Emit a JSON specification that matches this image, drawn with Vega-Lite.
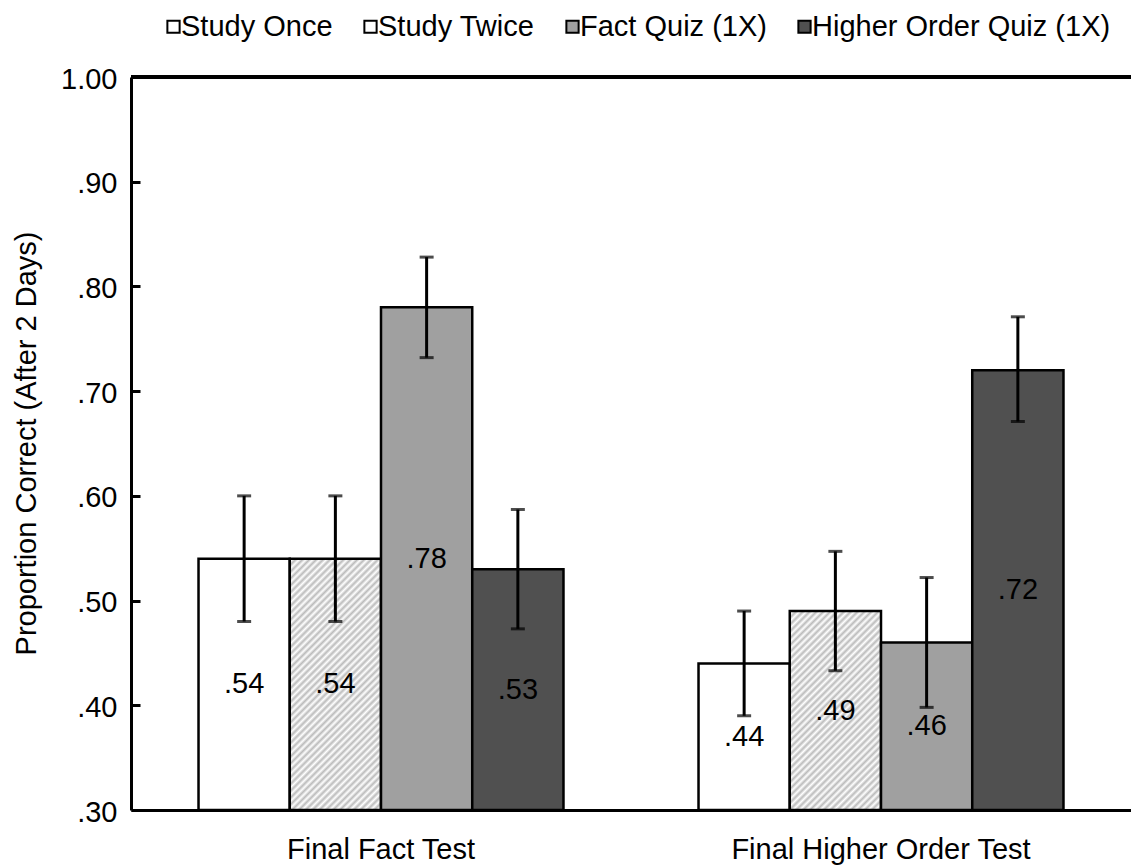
{
  "$schema": "https://vega.github.io/schema/vega-lite/v6.json",
  "width": 1000,
  "height": 733,
  "autosize": "none",
  "padding": {"left": 131, "top": 77, "right": 0, "bottom": 55},
  "background": "white",
  "config": {"font": "Liberation Sans", "view": {"stroke": null}, "axis": {"grid": false}},
  "data": {
    "values": [
      {"test": "Final Fact Test", "cond": "Study Once", "value": 0.54, "lo": 0.48, "hi": 0.60, "label": ".54"},
      {"test": "Final Fact Test", "cond": "Study Twice", "value": 0.54, "lo": 0.48, "hi": 0.60, "label": ".54"},
      {"test": "Final Fact Test", "cond": "Fact Quiz (1X)", "value": 0.78, "lo": 0.732, "hi": 0.828, "label": ".78"},
      {"test": "Final Fact Test", "cond": "Higher Order Quiz (1X)", "value": 0.53, "lo": 0.473, "hi": 0.587, "label": ".53"},
      {"test": "Final Higher Order Test", "cond": "Study Once", "value": 0.44, "lo": 0.39, "hi": 0.49, "label": ".44"},
      {"test": "Final Higher Order Test", "cond": "Study Twice", "value": 0.49, "lo": 0.433, "hi": 0.547, "label": ".49"},
      {"test": "Final Higher Order Test", "cond": "Fact Quiz (1X)", "value": 0.46, "lo": 0.398, "hi": 0.522, "label": ".46"},
      {"test": "Final Higher Order Test", "cond": "Higher Order Quiz (1X)", "value": 0.72, "lo": 0.671, "hi": 0.771, "label": ".72"}
    ]
  },
  "layer": [
    {
      "mark": {"type": "bar", "stroke": "black", "strokeWidth": 2.5},
      "encoding": {
        "x": {"field": "test", "type": "nominal", "sort": ["Final Fact Test", "Final Higher Order Test"], "scale": {"paddingInner": 0, "paddingOuter": 0},
          "axis": {"title": null, "labelAngle": 0, "ticks": false, "tickSize": 0, "labelPadding": 25, "labelFontSize": 29, "labelFont": "Liberation Sans", "labelColor": "black", "labelLimit": 0, "domainColor": "black", "domainWidth": 3}},
        "xOffset": {"field": "cond", "type": "nominal", "sort": ["Study Once", "Study Twice", "Fact Quiz (1X)", "Higher Order Quiz (1X)"], "scale": {"paddingInner": 0, "paddingOuter": 0.74}},
        "y": {"field": "value", "type": "quantitative", "scale": {"domain": [0.3, 1], "nice": false, "zero": false},
          "axis": {"values": [0.3, 0.4, 0.5, 0.6, 0.7, 0.8, 0.9, 1], "labelExpr": "datum.value >= 0.999 ? '1.00' : replace(format(datum.value, '.2f'), '0.', '.')",
            "ticks": false, "tickSize": 0, "labelPadding": 14, "labelFontSize": 29, "labelFont": "Liberation Sans", "labelColor": "black", "labelFlush": false, "labelOverlap": false, "labelOffset": 2,
            "domainColor": "black", "domainWidth": 3,
            "title": "Proportion Correct (After 2 Days)", "titleFontSize": 29, "titleFont": "Liberation Sans", "titleFontWeight": "normal", "titleColor": "black",
            "titleX": -96, "titleY": 366, "titleAngle": 270, "titleAlign": "center", "titleBaseline": "alphabetic"}},
        "y2": {"datum": 0.3},
        "fill": {
          "field": "cond", "type": "nominal",
          "sort": ["Study Once", "Study Twice", "Fact Quiz (1X)", "Higher Order Quiz (1X)"],
          "scale": {"domain": ["Study Once", "Study Twice", "Fact Quiz (1X)", "Higher Order Quiz (1X)"], "range": ["#ffffff", "#ffffff", "#a0a0a0", "#505050"]},
          "legend": {"orient": "none", "legendX": 28, "legendY": -65, "direction": "horizontal", "title": null, "padding": 0,
            "symbolType": "square", "symbolSize": 150, "symbolStrokeColor": "black", "symbolStrokeWidth": 2,
            "labelFontSize": 29, "labelFont": "Liberation Sans", "labelColor": "black", "labelOffset": -7, "labelLimit": 0, "columnPadding": 23,
            "encode": {"symbols": {"update": {
              "stroke": {"value": "black"}, "strokeWidth": {"value": 2}, "opacity": {"value": 1},
              "fill": [
              {"test": "datum.value === 'Study Twice'", "value": {"gradient": "linear", "x1": 0, "y1": 0, "x2": 1, "y2": 1, "stops": [{"offset": 0, "color": "#fff"}, {"offset": 0.38, "color": "#fff"}, {"offset": 0.5, "color": "#999"}, {"offset": 0.62, "color": "#fff"}, {"offset": 1, "color": "#fff"}]}},
              {"scale": "fill", "field": "value"}
            ]}}}},
          "condition": [
            {"test": "datum.cond === 'Study Twice' && datum.test === 'Final Fact Test'", "value": {"gradient": "linear", "x1": 0, "y1": 0, "x2": 0.4373, "y2": 1.2044, "stops": [
              {"offset":0,"color":"#bbb"},{"offset":0.01,"color":"#fff"},{"offset":0.02,"color":"#bbb"},{"offset":0.03,"color":"#fff"},{"offset":0.04,"color":"#bbb"},{"offset":0.05,"color":"#fff"},{"offset":0.06,"color":"#bbb"},{"offset":0.07,"color":"#fff"},{"offset":0.08,"color":"#bbb"},{"offset":0.09,"color":"#fff"},
              {"offset":0.1,"color":"#bbb"},{"offset":0.11,"color":"#fff"},{"offset":0.12,"color":"#bbb"},{"offset":0.13,"color":"#fff"},{"offset":0.14,"color":"#bbb"},{"offset":0.15,"color":"#fff"},{"offset":0.16,"color":"#bbb"},{"offset":0.17,"color":"#fff"},{"offset":0.18,"color":"#bbb"},{"offset":0.19,"color":"#fff"},
              {"offset":0.2,"color":"#bbb"},{"offset":0.21,"color":"#fff"},{"offset":0.22,"color":"#bbb"},{"offset":0.23,"color":"#fff"},{"offset":0.24,"color":"#bbb"},{"offset":0.25,"color":"#fff"},{"offset":0.26,"color":"#bbb"},{"offset":0.27,"color":"#fff"},{"offset":0.28,"color":"#bbb"},{"offset":0.29,"color":"#fff"},
              {"offset":0.3,"color":"#bbb"},{"offset":0.31,"color":"#fff"},{"offset":0.32,"color":"#bbb"},{"offset":0.33,"color":"#fff"},{"offset":0.34,"color":"#bbb"},{"offset":0.35,"color":"#fff"},{"offset":0.36,"color":"#bbb"},{"offset":0.37,"color":"#fff"},{"offset":0.38,"color":"#bbb"},{"offset":0.39,"color":"#fff"},
              {"offset":0.4,"color":"#bbb"},{"offset":0.41,"color":"#fff"},{"offset":0.42,"color":"#bbb"},{"offset":0.43,"color":"#fff"},{"offset":0.44,"color":"#bbb"},{"offset":0.45,"color":"#fff"},{"offset":0.46,"color":"#bbb"},{"offset":0.47,"color":"#fff"},{"offset":0.48,"color":"#bbb"},{"offset":0.49,"color":"#fff"},
              {"offset":0.5,"color":"#bbb"},{"offset":0.51,"color":"#fff"},{"offset":0.52,"color":"#bbb"},{"offset":0.53,"color":"#fff"},{"offset":0.54,"color":"#bbb"},{"offset":0.55,"color":"#fff"},{"offset":0.56,"color":"#bbb"},{"offset":0.57,"color":"#fff"},{"offset":0.58,"color":"#bbb"},{"offset":0.59,"color":"#fff"},
              {"offset":0.6,"color":"#bbb"},{"offset":0.61,"color":"#fff"},{"offset":0.62,"color":"#bbb"},{"offset":0.63,"color":"#fff"},{"offset":0.64,"color":"#bbb"},{"offset":0.65,"color":"#fff"},{"offset":0.66,"color":"#bbb"},{"offset":0.67,"color":"#fff"},{"offset":0.68,"color":"#bbb"},{"offset":0.69,"color":"#fff"},
              {"offset":0.7,"color":"#bbb"},{"offset":0.71,"color":"#fff"},{"offset":0.72,"color":"#bbb"},{"offset":0.73,"color":"#fff"},{"offset":0.74,"color":"#bbb"},{"offset":0.75,"color":"#fff"},{"offset":0.76,"color":"#bbb"},{"offset":0.77,"color":"#fff"},{"offset":0.78,"color":"#bbb"},{"offset":0.79,"color":"#fff"},
              {"offset":0.8,"color":"#bbb"},{"offset":0.81,"color":"#fff"},{"offset":0.82,"color":"#bbb"},{"offset":0.83,"color":"#fff"},{"offset":0.84,"color":"#bbb"},{"offset":0.85,"color":"#fff"},{"offset":0.86,"color":"#bbb"},{"offset":0.87,"color":"#fff"},{"offset":0.88,"color":"#bbb"},{"offset":0.89,"color":"#fff"},
              {"offset":0.9,"color":"#bbb"},{"offset":0.91,"color":"#fff"},{"offset":0.92,"color":"#bbb"},{"offset":0.93,"color":"#fff"},{"offset":0.94,"color":"#bbb"},{"offset":0.95,"color":"#fff"},{"offset":0.96,"color":"#bbb"},{"offset":0.97,"color":"#fff"},{"offset":0.98,"color":"#bbb"},{"offset":0.99,"color":"#fff"},
              {"offset":1,"color":"#bbb"}]}},
            {"test": "datum.cond === 'Study Twice' && datum.test === 'Final Higher Order Test'", "value": {"gradient": "linear", "x1": 0, "y1": 0, "x2": 0.6525, "y2": 1.4225, "stops": [
              {"offset":0,"color":"#bbb"},{"offset":0.01,"color":"#fff"},{"offset":0.02,"color":"#bbb"},{"offset":0.03,"color":"#fff"},{"offset":0.04,"color":"#bbb"},{"offset":0.05,"color":"#fff"},{"offset":0.06,"color":"#bbb"},{"offset":0.07,"color":"#fff"},{"offset":0.08,"color":"#bbb"},{"offset":0.09,"color":"#fff"},
              {"offset":0.1,"color":"#bbb"},{"offset":0.11,"color":"#fff"},{"offset":0.12,"color":"#bbb"},{"offset":0.13,"color":"#fff"},{"offset":0.14,"color":"#bbb"},{"offset":0.15,"color":"#fff"},{"offset":0.16,"color":"#bbb"},{"offset":0.17,"color":"#fff"},{"offset":0.18,"color":"#bbb"},{"offset":0.19,"color":"#fff"},
              {"offset":0.2,"color":"#bbb"},{"offset":0.21,"color":"#fff"},{"offset":0.22,"color":"#bbb"},{"offset":0.23,"color":"#fff"},{"offset":0.24,"color":"#bbb"},{"offset":0.25,"color":"#fff"},{"offset":0.26,"color":"#bbb"},{"offset":0.27,"color":"#fff"},{"offset":0.28,"color":"#bbb"},{"offset":0.29,"color":"#fff"},
              {"offset":0.3,"color":"#bbb"},{"offset":0.31,"color":"#fff"},{"offset":0.32,"color":"#bbb"},{"offset":0.33,"color":"#fff"},{"offset":0.34,"color":"#bbb"},{"offset":0.35,"color":"#fff"},{"offset":0.36,"color":"#bbb"},{"offset":0.37,"color":"#fff"},{"offset":0.38,"color":"#bbb"},{"offset":0.39,"color":"#fff"},
              {"offset":0.4,"color":"#bbb"},{"offset":0.41,"color":"#fff"},{"offset":0.42,"color":"#bbb"},{"offset":0.43,"color":"#fff"},{"offset":0.44,"color":"#bbb"},{"offset":0.45,"color":"#fff"},{"offset":0.46,"color":"#bbb"},{"offset":0.47,"color":"#fff"},{"offset":0.48,"color":"#bbb"},{"offset":0.49,"color":"#fff"},
              {"offset":0.5,"color":"#bbb"},{"offset":0.51,"color":"#fff"},{"offset":0.52,"color":"#bbb"},{"offset":0.53,"color":"#fff"},{"offset":0.54,"color":"#bbb"},{"offset":0.55,"color":"#fff"},{"offset":0.56,"color":"#bbb"},{"offset":0.57,"color":"#fff"},{"offset":0.58,"color":"#bbb"},{"offset":0.59,"color":"#fff"},
              {"offset":0.6,"color":"#bbb"},{"offset":0.61,"color":"#fff"},{"offset":0.62,"color":"#bbb"},{"offset":0.63,"color":"#fff"},{"offset":0.64,"color":"#bbb"},{"offset":0.65,"color":"#fff"},{"offset":0.66,"color":"#bbb"},{"offset":0.67,"color":"#fff"},{"offset":0.68,"color":"#bbb"},{"offset":0.69,"color":"#fff"},
              {"offset":0.7,"color":"#bbb"},{"offset":0.71,"color":"#fff"},{"offset":0.72,"color":"#bbb"},{"offset":0.73,"color":"#fff"},{"offset":0.74,"color":"#bbb"},{"offset":0.75,"color":"#fff"},{"offset":0.76,"color":"#bbb"},{"offset":0.77,"color":"#fff"},{"offset":0.78,"color":"#bbb"},{"offset":0.79,"color":"#fff"},
              {"offset":0.8,"color":"#bbb"},{"offset":0.81,"color":"#fff"},{"offset":0.82,"color":"#bbb"},{"offset":0.83,"color":"#fff"},{"offset":0.84,"color":"#bbb"},{"offset":0.85,"color":"#fff"},{"offset":0.86,"color":"#bbb"},{"offset":0.87,"color":"#fff"},{"offset":0.88,"color":"#bbb"},{"offset":0.89,"color":"#fff"},
              {"offset":0.9,"color":"#bbb"},{"offset":0.91,"color":"#fff"},{"offset":0.92,"color":"#bbb"},{"offset":0.93,"color":"#fff"},{"offset":0.94,"color":"#bbb"},{"offset":0.95,"color":"#fff"},{"offset":0.96,"color":"#bbb"},{"offset":0.97,"color":"#fff"},{"offset":0.98,"color":"#bbb"},{"offset":0.99,"color":"#fff"},
              {"offset":1,"color":"#bbb"}]}}
          ]
        }
      }
    },
    {
      "mark": {"type": "text", "fontSize": 29, "font": "Liberation Sans", "color": "black", "align": "center", "baseline": "middle"},
      "encoding": {
        "x": {"field": "test", "type": "nominal", "sort": ["Final Fact Test", "Final Higher Order Test"]},
        "xOffset": {"field": "cond", "type": "nominal", "sort": ["Study Once", "Study Twice", "Fact Quiz (1X)", "Higher Order Quiz (1X)"]},
        "y": {"field": "value", "type": "quantitative", "scale": {"domain": [0.3, 1.7], "nice": false, "zero": false}, "axis": null},
        "text": {"field": "label"}
      }
    },
    {
      "mark": {"type": "rule", "color": "black", "strokeWidth": 3},
      "encoding": {
        "x": {"field": "test", "type": "nominal", "sort": ["Final Fact Test", "Final Higher Order Test"]},
        "xOffset": {"field": "cond", "type": "nominal", "sort": ["Study Once", "Study Twice", "Fact Quiz (1X)", "Higher Order Quiz (1X)"]},
        "y": {"field": "lo", "type": "quantitative", "scale": {"domain": [0.3, 1], "nice": false, "zero": false}, "axis": null},
        "y2": {"field": "hi"}
      }
    },
    {
      "mark": {"type": "tick", "color": "black", "thickness": 3, "size": 14, "orient": "horizontal"},
      "encoding": {
        "x": {"field": "test", "type": "nominal", "sort": ["Final Fact Test", "Final Higher Order Test"]},
        "xOffset": {"field": "cond", "type": "nominal", "sort": ["Study Once", "Study Twice", "Fact Quiz (1X)", "Higher Order Quiz (1X)"]},
        "y": {"field": "lo", "type": "quantitative", "scale": {"domain": [0.3, 1], "nice": false, "zero": false}, "axis": null}
      }
    },
    {
      "mark": {"type": "tick", "color": "black", "thickness": 3, "size": 14, "orient": "horizontal"},
      "encoding": {
        "x": {"field": "test", "type": "nominal", "sort": ["Final Fact Test", "Final Higher Order Test"]},
        "xOffset": {"field": "cond", "type": "nominal", "sort": ["Study Once", "Study Twice", "Fact Quiz (1X)", "Higher Order Quiz (1X)"]},
        "y": {"field": "hi", "type": "quantitative", "scale": {"domain": [0.3, 1], "nice": false, "zero": false}, "axis": null}
      }
    },
    {
      "mark": {"type": "rule", "color": "black", "strokeWidth": 3},
      "encoding": {
        "y": {"datum": 1, "type": "quantitative", "scale": {"domain": [0.3, 1], "nice": false, "zero": false},
          "axis": {"orient": "left", "offset": -9, "values": [0.3, 0.4, 0.5, 0.6, 0.7, 0.8, 0.9, 1], "labels": false, "domain": false, "title": null, "grid": false, "ticks": true, "tickSize": 9, "tickWidth": 3, "tickColor": "black"}}
      }
    }
  ],
  "resolve": {"scale": {"y": "independent"}}
}
